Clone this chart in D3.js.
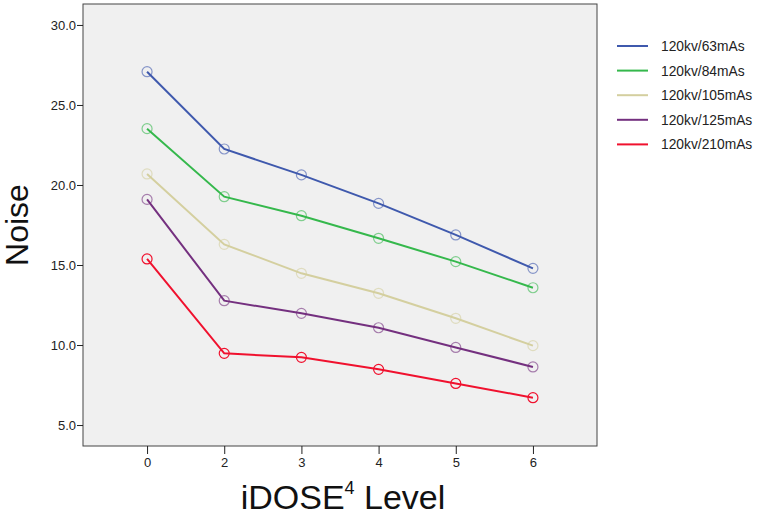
<!DOCTYPE html>
<html><head><meta charset="utf-8">
<script src="https://cdn.jsdelivr.net/npm/d3@7"></script>
<style>body{margin:0;background:#fff;}svg{display:block;font-family:"Liberation Sans",Arial,Helvetica,sans-serif;}</style>
</head><body>
<svg id="c" width="760" height="515"></svg>
<script>
const levels = ["0","2","3","4","5","6"];
const seriesNames = ["120kv/63mAs","120kv/84mAs","120kv/105mAs","120kv/125mAs","120kv/210mAs"];
const colors = ["#3f59ad","#35b84c","#d4cf9f","#74307f","#f0112e"];
const s63  = [27.08, 22.25, 20.63, 18.85, 16.88, 14.79];
const s84  = [23.52, 19.27, 18.08, 16.67, 15.21, 13.58];
const s105 = [20.69, 16.29, 14.48, 13.23, 11.67, 9.96];
const s125 = [19.10, 12.77, 11.98, 11.08, 9.85, 8.63];
const s210 = [15.38, 9.48, 9.23, 8.48, 7.60, 6.71];
const yTicks = [5, 10, 15, 20, 25, 30];
const allSeries = [s63, s84, s105, s125, s210];

const svg = d3.select("#c");
const L = 83, R = 597, T = 4, B = 446;
const x = d3.scalePoint().domain(levels).range([L, R]).padding(0.83);
const y = d3.scaleLinear().domain([3.69, 31.31]).range([B, T]);

svg.append("rect").attr("x", L).attr("y", T).attr("width", R - L).attr("height", B - T)
  .attr("fill", "#f0f0f0").attr("stroke", "#444").attr("stroke-width", 1);

const yAxis = svg.append("g").attr("transform", `translate(${L},0)`)
  .call(d3.axisLeft(y).tickValues(yTicks).tickFormat(d3.format(".1f")).tickSize(6).tickSizeOuter(0));
yAxis.select(".domain").remove();
yAxis.selectAll("text").attr("font-size", 13).attr("fill", "#222").attr("x", -7);
yAxis.selectAll("line").attr("stroke", "#222");

const xAxis = svg.append("g").attr("transform", `translate(0,${B})`)
  .call(d3.axisBottom(x).tickSize(8).tickSizeOuter(0));
xAxis.select(".domain").remove();
xAxis.selectAll("text").attr("font-size", 13).attr("fill", "#222").attr("y", 12);
xAxis.selectAll("line").attr("stroke", "#222");

const line = d3.line().x((d, i) => x(levels[i])).y(d => y(d));
allSeries.forEach((s, k) => {
  svg.append("path").datum(s).attr("d", line).attr("fill", "none")
    .attr("stroke", colors[k]).attr("stroke-width", 2);
});
allSeries.forEach((s, k) => {
  svg.selectAll(null).data(s).enter().append("circle")
    .attr("cx", (d, i) => x(levels[i])).attr("cy", d => y(d)).attr("r", 5)
    .attr("fill", "none").attr("stroke", colors[k]).attr("stroke-width", 1.2)
    .attr("stroke-opacity", k === 4 ? 1 : 0.6);
});

// Legend
const leg = svg.append("g");
seriesNames.forEach((n, k) => {
  const yy = 46 + k * 24.6;
  leg.append("line").attr("x1", 617).attr("x2", 648).attr("y1", yy).attr("y2", yy)
    .attr("stroke", colors[k]).attr("stroke-width", 2);
  leg.append("text").attr("x", 661).attr("y", yy + 5).attr("font-size", 13.8)
    .attr("fill", "#222").text(n);
});

// Axis titles
svg.append("text").attr("transform", `translate(28,${(T + B) / 2}) rotate(-90)`)
  .attr("text-anchor", "middle").attr("font-size", 32).attr("fill", "#111").text("Noise");
const xt = svg.append("text").attr("x", (L + R) / 2 + 3).attr("y", 509)
  .attr("text-anchor", "middle").attr("font-size", 34).attr("fill", "#111");
xt.append("tspan").text("iDOSE");
xt.append("tspan").attr("font-size", 18).attr("dy", -15).text("4");
xt.append("tspan").attr("dy", 15).text(" Level");
</script>
</body></html>
